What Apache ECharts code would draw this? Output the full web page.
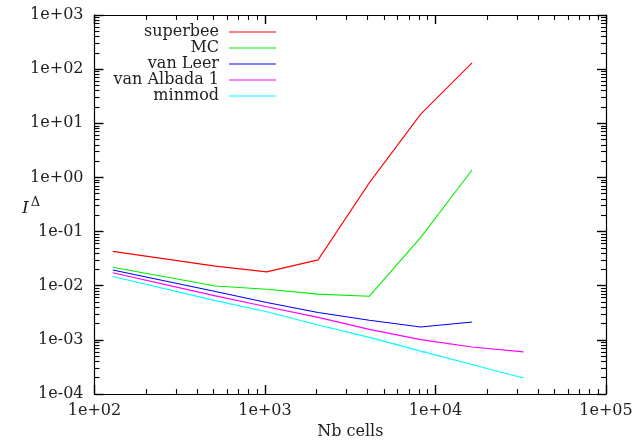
<!DOCTYPE html>
<html>
<head>
<meta charset="utf-8">
<script src="https://cdn.jsdelivr.net/npm/echarts@6/dist/echarts.min.js"></script>
<style>html,body{margin:0;padding:0;background:#fff}#c{width:634px;height:440px}</style>
</head>
<body>
<div id="c"></div>
<script>
// ---- data ----
const cells = [128, 512, 1024, 2048, 4096, 8192, 16384, 32768];
const superbee = [0.043, 0.023, 0.018, 0.030, 0.80, 14.8, 131];
const mc = [0.022, 0.0099, 0.0086, 0.0070, 0.0064, 0.078, 1.37];
const vanLeer = [0.0195, 0.0078, 0.0049, 0.0032, 0.0023, 0.00173, 0.00214];
const vanAlbada1 = [0.0174, 0.0065, 0.0041, 0.0026, 0.00156, 0.00101, 0.00074, 0.0006];
const minmod = [0.0148, 0.0053, 0.0033, 0.00188, 0.00111, 0.00062, 0.00035, 0.000197];
const seriesNames = ['superbee', 'MC', 'van Leer', 'van Albada 1', 'minmod'];
const seriesData = [superbee, mc, vanLeer, vanAlbada1, minmod];
const colors = ['#ff0000', '#00ee00', '#0000ff', '#ff00ff', '#00ffff'];
const xRange = [1e2, 1e5];
const yRange = [1e-4, 1e3];
const xTitle = 'Nb cells';

const FONT = 'DejaVu Serif';
const FS = 16;
function fmt(v) {
  const e = Math.round(Math.log10(v));
  return '1e' + (e < 0 ? '-' : '+') + String(Math.abs(e)).padStart(2, '0');
}

function ax(range, pos, labels, isX) {
  return {
    type: 'log', logBase: 10, min: range[0], max: range[1], position: pos,
    z: 10,
    axisLine: { show: true, onZero: false, lineStyle: { color: '#000', width: 1.2 } },
    axisTick: { show: true, inside: true, length: 9, lineStyle: { color: '#000', width: 1.4 } },
    minorTick: { show: true, splitNumber: 9, length: 5, lineStyle: { color: '#000', width: 1.1 } },
    axisLabel: { show: labels, formatter: fmt, fontFamily: FONT, fontSize: FS, color: '#222', margin: isX ? 9 : 11 },
    splitLine: { show: false },
    name: (labels && isX) ? xTitle : '',
    nameLocation: 'middle', nameGap: 30,
    nameTextStyle: { fontFamily: FONT, fontSize: FS, color: '#222' }
  };
}

const series = seriesNames.map((n, i) => ({
  name: n, type: 'line', xAxisIndex: 0, yAxisIndex: 0,
  data: seriesData[i].map((v, j) => [cells[j], v]),
  showSymbol: false, symbol: 'none',
  lineStyle: { color: colors[i], width: 1.1 },
  itemStyle: { color: colors[i] },
  animation: false
}));

const graphics = [];
seriesNames.forEach((n, i) => {
  const yc = 32 + i * 16;
  graphics.push({ type: 'text', x: 219, y: yc, style: { text: n, font: FS + 'px "' + FONT + '"', fill: '#222', align: 'right', verticalAlign: 'middle' } });
  graphics.push({ type: 'line', shape: { x1: 229, y1: yc, x2: 276, y2: yc }, style: { stroke: colors[i], lineWidth: 1.1 } });
});
graphics.push({
  type: 'text', x: 22, y: 209,
  style: {
    text: '{i|I}{s|Δ}',
    verticalAlign: 'middle',
    rich: {
      i: { fontFamily: FONT, fontStyle: 'italic', fontSize: 17, fill: '#222', color: '#222' },
      s: { fontFamily: FONT, fontSize: 13, fill: '#222', color: '#222', verticalAlign: 'bottom', padding: [0, 0, 13, 2] }
    }
  }
});

const chart = echarts.init(document.getElementById('c'), null, { renderer: 'canvas' });
chart.setOption({
  animation: false,
  backgroundColor: '#fff',
  grid: { left: 94.5, right: 28, top: 15, bottom: 46, outerBoundsMode: 'none' },
  xAxis: [ax(xRange, 'bottom', true, true), ax(xRange, 'top', false, true)],
  yAxis: [ax(yRange, 'left', true, false), ax(yRange, 'right', false, false)],
  series: series,
  graphic: graphics
});
</script>
</body>
</html>
